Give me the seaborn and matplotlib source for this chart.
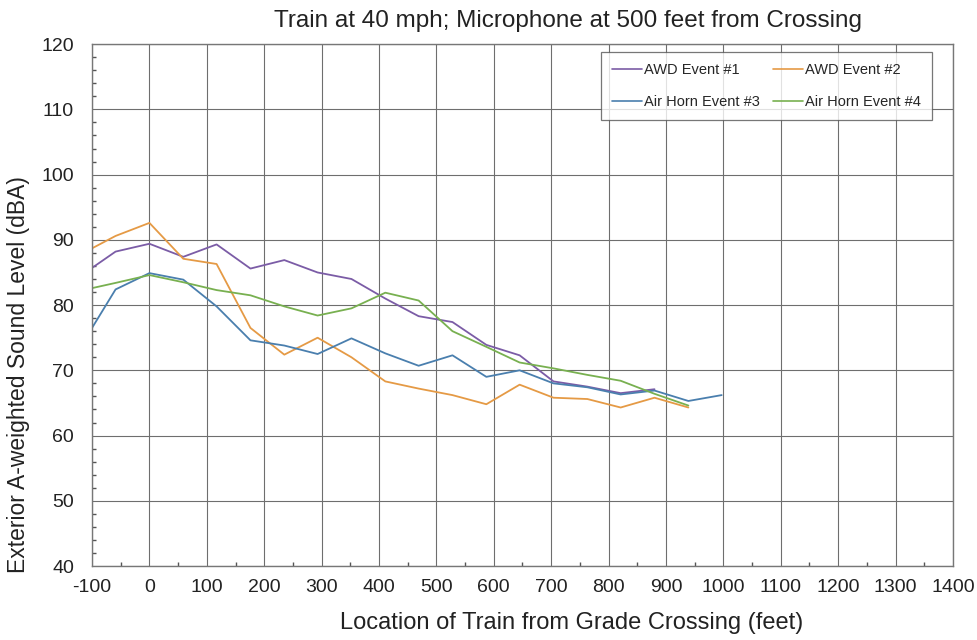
import numpy as np
import pandas as pd
import matplotlib
matplotlib.use("Agg")
import matplotlib.pyplot as plt
from matplotlib.ticker import MultipleLocator
import seaborn as sns

# ---- data ----
x_pos = [-100, -59, 0, 59, 117, 176, 235, 293, 352, 411, 469, 528, 587, 645,
         704, 763, 821, 880, 939, 997]

awd1 = [85.7, 88.2, 89.4, 87.4, 89.3, 85.6, 86.9, 85.0, 84.0, 81.0, 78.3,
        77.4, 73.9, 72.3, 68.3, 67.5, 66.5, 67.1]
awd2 = [88.7, 90.6, 92.6, 87.1, 86.3, 76.5, 72.4, 75.0, 72.0, 68.3, 67.2,
        66.2, 64.8, 67.8, 65.8, 65.6, 64.3, 65.8, 64.3]
horn3 = [76.5, 82.4, 84.9, 83.9, 79.8, 74.6, 73.8, 72.5, 74.9, 72.6, 70.7,
         72.3, 69.0, 70.0, 68.0, 67.4, 66.3, 66.9, 65.3, 66.2]
horn4 = [82.6, 83.4, 84.6, 83.5, 82.3, 81.5, 79.8, 78.4, 79.5, 81.9, 80.7,
         76.0, 73.6, 71.2, 70.3, 69.3, 68.4, 66.4, 64.6]

series_names = ["AWD Event #1", "AWD Event #2", "Air Horn Event #3", "Air Horn Event #4"]
series_vals = [awd1, awd2, horn3, horn4]
colors = ["#7b5ca6", "#e59a45", "#4a7fae", "#78b050"]

title = "Train at 40 mph; Microphone at 500 feet from Crossing"
xlabel = "Location of Train from Grade Crossing (feet)"
ylabel = "Exterior A-weighted Sound Level (dBA)"
x_ticks = list(range(-100, 1401, 100))
y_ticks = list(range(40, 121, 10))

frames = []
for name, vals in zip(series_names, series_vals):
    frames.append(pd.DataFrame({"x": x_pos[:len(vals)], "y": vals, "series": name}))
df = pd.concat(frames, ignore_index=True)

sns.set_theme(style="white")
plt.rcParams["font.family"] = ["Liberation Sans", "DejaVu Sans"]

fig = plt.figure(figsize=(9.77, 6.4), dpi=100)
ax = fig.add_axes([0.0942, 0.1156, 0.8812, 0.8154])

sns.lineplot(data=df, x="x", y="y", hue="series", hue_order=series_names,
             palette=colors, linewidth=1.3, ax=ax, sort=False, estimator=None)

ax.set_xlim(-100, 1400)
ax.set_ylim(40, 120)
ax.set_xticks(x_ticks)
ax.set_xticklabels([str(t) for t in x_ticks])
ax.set_yticks(y_ticks)
ax.xaxis.set_minor_locator(MultipleLocator(50))
ax.yaxis.set_minor_locator(MultipleLocator(2))
ax.tick_params(axis="both", which="major", labelsize=14, length=0,
               colors="#222222")
ax.tick_params(axis="x", which="major", pad=9)
ax.tick_params(axis="y", which="major", pad=13)
ax.tick_params(axis="both", which="minor", direction="in", length=3,
               color="#555555", bottom=True, left=True)
ax.grid(True, which="major", color="#6e6e6e", linewidth=0.8)
for s in ax.spines.values():
    s.set_color("#777777")
    s.set_linewidth(1.0)

ax.set_title(title, fontsize=17.5, color="#222222", pad=12, x=0.553)
ax.set_xlabel(xlabel, fontsize=17, color="#222222", labelpad=12)
ax.xaxis.set_label_coords(0.557, -0.088)
ax.set_ylabel(ylabel, fontsize=16.5, color="#222222", labelpad=8)
ax.yaxis.label.set_y(0.366)

handles, labels = ax.get_legend_handles_labels()
order = [0, 2, 1, 3]  # row-wise layout: AWD #1, AWD #2 / Horn #3, Horn #4
leg = ax.legend([handles[i] for i in order], [labels[i] for i in order],
                loc="upper right", bbox_to_anchor=(0.976, 0.985),
                ncol=2, fontsize=10.5, frameon=True,
                fancybox=False, labelspacing=1.25, handlelength=2.05,
                handletextpad=0.15, borderpad=0.75, columnspacing=0.9,
                borderaxespad=0.0)
leg.get_frame().set_edgecolor("#555555")
leg.get_frame().set_linewidth(0.9)
for line in leg.get_lines():
    line.set_linewidth(1.2)

fig.savefig("out.png", dpi=100)
